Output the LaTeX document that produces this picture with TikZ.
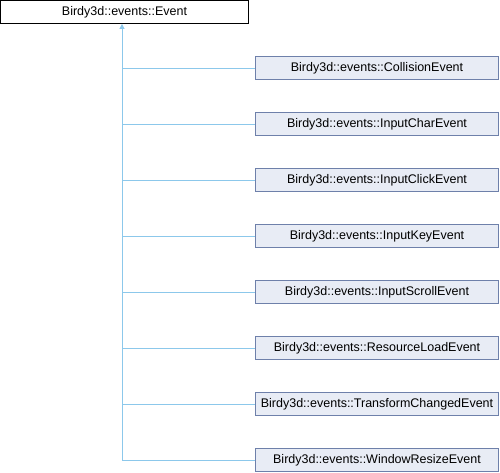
\documentclass[tikz,border=0pt]{standalone}
\usepackage{fontspec}
\setmainfont{Liberation Sans}
\usetikzlibrary{arrows.meta}
\definecolor{linkc}{RGB}{140,200,235}
\definecolor{boxb}{RGB}{110,128,170}
\definecolor{boxf}{RGB}{232,236,245}
\begin{document}
\begin{tikzpicture}[x=1pt,y=-1pt,
  basebox/.style={draw=black,fill=white,line width=0.8pt,minimum width=248pt,minimum height=23pt,inner sep=0pt,font=\fontsize{12.5}{14}\selectfont},
  childbox/.style={draw=boxb,fill=boxf,line width=0.8pt,minimum width=243pt,minimum height=23pt,inner sep=0pt,font=\fontsize{12.5}{14}\selectfont},
  link/.style={draw=linkc,line width=0.8pt}]
\useasboundingbox (0,0) rectangle (500,472);
\node[basebox] (base) at (124.5,12) {Birdy3d::events::Event};
\node[childbox] (c1) at (377,68) {Birdy3d::events::CollisionEvent};
\node[childbox] (c2) at (377,124) {Birdy3d::events::InputCharEvent};
\node[childbox] (c3) at (377,180) {Birdy3d::events::InputClickEvent};
\node[childbox] (c4) at (377,236) {Birdy3d::events::InputKeyEvent};
\node[childbox] (c5) at (377,292) {Birdy3d::events::InputScrollEvent};
\node[childbox] (c6) at (377,348) {Birdy3d::events::ResourceLoadEvent};
\node[childbox] (c7) at (377,404) {Birdy3d::events::TransformChangedEvent};
\node[childbox] (c8) at (377,460) {Birdy3d::events::WindowResizeEvent};
\coordinate (vx) at (122,0);
\coordinate (top) at (vx |- base.south);
\coordinate (bot) at (vx |- c8.west);
\draw[link,-{Triangle[open,fill=linkc,length=5pt,width=5pt]}] (bot) -- (top);
\foreach \i in {1,...,8}{
  \draw[link] (vx |- c\i.west) -- (c\i.west);
}
\end{tikzpicture}
\end{document}
